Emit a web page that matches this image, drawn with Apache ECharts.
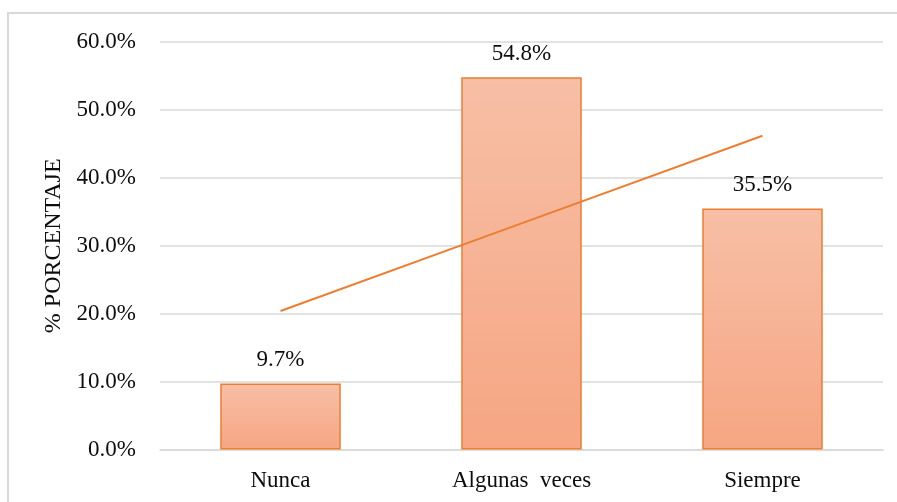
<!DOCTYPE html>
<html>
<head>
<meta charset="utf-8">
<style>
  html, body { margin: 0; padding: 0; background: #ffffff; }
  #chart { width: 897px; height: 502px; }
</style>
<script src="https://cdn.jsdelivr.net/npm/echarts@6/dist/echarts.min.js"></script>
</head>
<body>
<div id="chart"></div>
<script>
// Survey answers and their share of respondents (%)
const categories = ['Nunca', 'Algunas  veces', 'Siempre'];
const percentages = [9.7, 54.8, 35.5];
// Linear trend line across the three categories (%)
const trendValues = [20.4, 33.3, 46.2];
const yTicks = { min: 0, max: 60, step: 10 };

const chart = echarts.init(document.getElementById('chart'), null, { renderer: 'canvas' });
const serif = '"Liberation Serif", "Times New Roman", serif';
const gridColor = '#d9d9d9';
const accent = '#ED7D31';
const ink = '#0d0d0d';

chart.setOption({
  animation: false,
  backgroundColor: '#ffffff',
  textStyle: { fontFamily: serif },
  graphic: [{
    type: 'rect',
    shape: { x: 8, y: 13, width: 900, height: 500 },
    style: { fill: 'none', stroke: gridColor, lineWidth: 2 },
    silent: true
  }],
  grid: { left: 160, right: 14, top: 42, bottom: 52.5, containLabel: false },
  xAxis: {
    type: 'category',
    data: categories,
    axisLine: { show: true, lineStyle: { color: gridColor, width: 1.5 } },
    axisTick: { show: false },
    axisLabel: { color: ink, fontSize: 23, fontFamily: serif, margin: 20 }
  },
  yAxis: {
    type: 'value',
    min: yTicks.min,
    max: yTicks.max,
    interval: yTicks.step,
    name: '% PORCENTAJE',
    nameLocation: 'middle',
    nameGap: 80,
    nameRotate: 90,
    nameTextStyle: { color: ink, fontSize: 24, fontFamily: serif },
    axisLine: { show: false },
    axisTick: { show: false },
    splitLine: { lineStyle: { color: gridColor, width: 1.5 } },
    axisLabel: {
      color: ink, fontSize: 23, fontFamily: serif, margin: 24,
      formatter: v => v.toFixed(1) + '%'
    }
  },
  series: [
    {
      type: 'bar',
      data: percentages,
      barWidth: '50%',
      itemStyle: {
        color: new echarts.graphic.LinearGradient(0, 0, 0, 1, [
          { offset: 0, color: '#F7BFA6' },
          { offset: 1, color: '#F6A683' }
        ]),
        borderColor: accent,
        borderWidth: 1.5
      },
      label: {
        show: true,
        position: 'top',
        distance: 12,
        color: ink,
        fontSize: 23,
        fontFamily: serif,
        formatter: p => p.value.toFixed(1) + '%'
      },
      z: 2
    },
    {
      type: 'line',
      data: trendValues,
      symbol: 'none',
      lineStyle: { color: accent, width: 2 },
      z: 3
    }
  ]
});
</script>
</body>
</html>
